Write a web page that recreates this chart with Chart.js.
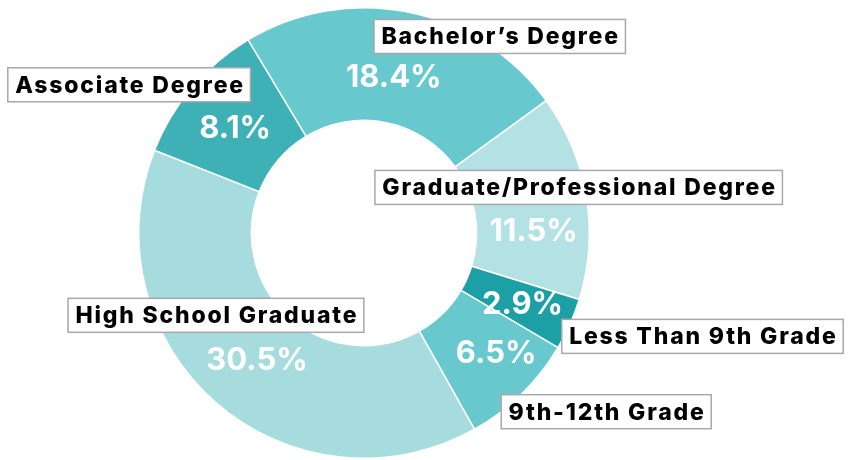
<!DOCTYPE html>
<html>
<head>
<meta charset="utf-8">
<style>
  html, body { margin: 0; padding: 0; background: #fff; }
  canvas { display: block; }
</style>
<script src="https://cdn.jsdelivr.net/npm/chart.js@4.4.0/dist/chart.umd.min.js"></script>
</head>
<body>
<canvas id="edu" width="848" height="460"></canvas>
<script>
// Educational attainment shares (percent)
const categories = [
  'Bachelor\u2019s Degree',
  'Graduate/Professional Degree',
  'Less Than 9th Grade',
  '9th-12th Grade',
  'High School Graduate',
  'Associate Degree',
];
const shares = [18.4, 11.5, 2.9, 6.5, 30.5, 8.1];
const sliceColors = ['#67c9ce', '#b3e1e4', '#1c9fa5', '#67c9ce', '#a7dcdf', '#3eb1b6'];

// where the value text and the name box sit, relative to each slice's centre point
const valueOffsets = [[-4, 10], [3, 26], [4, 3], [14, 0], [4, 0], [0, 5]];
const boxOffsets = [[102, -31], [48, -18], [184, 35], [124, 58], [-37, -45], [-106, -39]];

const labelFont = '800 23px Inter, "DejaVu Sans", sans-serif';
const valueFont = '700 31px Inter, "DejaVu Sans", sans-serif';

const sliceLabels = {
  id: 'sliceLabels',
  afterDatasetsDraw(chart) {
    const ctx = chart.ctx;
    const arcs = chart.getDatasetMeta(0).data;
    ctx.save();
    ctx.textBaseline = 'middle';
    ctx.textAlign = 'center';

    arcs.forEach((arc, i) => {
      const c = arc.getCenterPoint();
      // name box
      const bx = c.x + boxOffsets[i][0];
      const by = c.y + boxOffsets[i][1];
      ctx.font = labelFont;
      ctx.letterSpacing = '1.8px';
      const w = ctx.measureText(categories[i]).width + 13;
      const h = 34;
      ctx.fillStyle = '#fff';
      ctx.fillRect(bx - w / 2, by - h / 2, w, h);
      ctx.strokeStyle = '#a8a8a8';
      ctx.lineWidth = 1.5;
      ctx.strokeRect(bx - w / 2, by - h / 2, w, h);
      ctx.fillStyle = '#000';
      ctx.fillText(categories[i], bx + 0.9, by + 1);
    });

    arcs.forEach((arc, i) => {
      const c = arc.getCenterPoint();
      ctx.font = valueFont;
      ctx.letterSpacing = '0px';
      ctx.fillStyle = '#fff';
      ctx.fillText(shares[i].toFixed(1) + '%', c.x + valueOffsets[i][0], c.y + valueOffsets[i][1]);
    });
    ctx.restore();
  },
};

new Chart(document.getElementById('edu'), {
  type: 'doughnut',
  data: {
    labels: categories,
    datasets: [{
      data: shares,
      backgroundColor: sliceColors,
      borderColor: '#fff',
      borderWidth: 1.5,
    }],
  },
  options: {
    responsive: false,
    animation: false,
    rotation: -31,
    cutout: '50%',
    layout: { padding: { top: 7, bottom: 1, left: 0, right: 120 } },
    plugins: {
      legend: { display: false },
      tooltip: { enabled: false },
    },
  },
  plugins: [sliceLabels],
});
</script>
</body>
</html>
